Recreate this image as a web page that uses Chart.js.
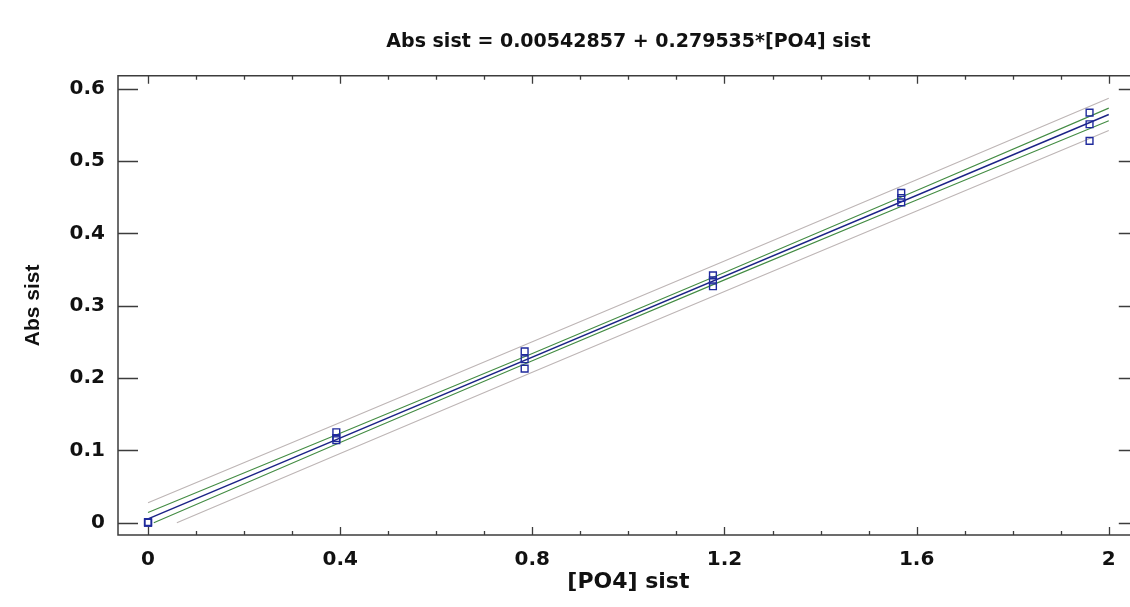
<!DOCTYPE html>
<html>
<head>
<meta charset="utf-8">
<script src="https://cdn.jsdelivr.net/npm/chart.js@4.4.1/dist/chart.umd.min.js"></script>
<style>
  html, body { margin: 0; padding: 0; background: #fff; overflow: hidden; }
</style>
</head>
<body>
<!-- the original plot frame runs a few pixels past the right edge, so the canvas is a bit wider than the window -->
<canvas id="chartReg" width="1145" height="607"></canvas>
<script>
// observed points (3 replicates per level)
const obsX = [0, 0, 0, 0.392, 0.392, 0.392, 0.784, 0.784, 0.784,
              1.176, 1.176, 1.176, 1.568, 1.568, 1.568, 1.96, 1.96, 1.96];
const obsY = [0.000, 0.001, 0.000, 0.125, 0.117, 0.114, 0.237, 0.226, 0.213,
              0.342, 0.335, 0.327, 0.456, 0.449, 0.443, 0.567, 0.551, 0.528];

// fitted line
const fitX = [0, 2.0];
const fitY = [0.0054, 0.5645];

// confidence limits (green) and prediction limits (gray)
const bandX = [0, 0.4, 0.8, 1.2, 1.6, 2.0];
const confUpper = [0.0140, 0.1236, 0.2341, 0.3460, 0.4593, 0.5733];
const confLowerX = [0.012, 0.4, 0.8, 1.2, 1.6, 2.0];
const confLower = [0.0000, 0.1108, 0.2241, 0.3358, 0.4461, 0.5557];
const predUpper = [0.0276, 0.1387, 0.2502, 0.3620, 0.4742, 0.5868];
const predLowerX = [0.06, 0.4, 0.8, 1.2, 1.6, 2.0];
const predLower = [0.0000, 0.0957, 0.2080, 0.3198, 0.4312, 0.5422];

// axis ticks
const xTicks = [0, 0.4, 0.8, 1.2, 1.6, 2];
const xTickLabels = ['0', '0.4', '0.8', '1.2', '1.6', '2'];
const xMinorTicks = [0, 0.1, 0.2, 0.3, 0.4, 0.5, 0.6, 0.7, 0.8, 0.9, 1.0,
                     1.1, 1.2, 1.3, 1.4, 1.5, 1.6, 1.7, 1.8, 1.9, 2.0];
const yTicks = [0, 0.1, 0.2, 0.3, 0.4, 0.5, 0.6];
const yTickLabels = ['0', '0.1', '0.2', '0.3', '0.4', '0.5', '0.6'];

// the original text is a wide bold face, DejaVu Sans Bold is the closest
const WIDE = "'DejaVu Sans', sans-serif";
const NARROW = "'Liberation Sans', Arial, sans-serif";

const pairs = (xs, ys) => xs.map((v, i) => ({ x: v, y: ys[i] }));

// frame with inward ticks, like the original plot
const frameTicks = {
    id: 'frameTicks',
    beforeDatasetsDraw(chart) {
        const { ctx, chartArea: a, scales: { x, y } } = chart;
        ctx.save();
        ctx.strokeStyle = '#3c3c3c';
        ctx.lineWidth = 1.5;
        ctx.beginPath();
        ctx.moveTo(a.right, a.top);
        ctx.lineTo(a.left, a.top);
        ctx.lineTo(a.left, a.bottom);
        ctx.lineTo(a.right, a.bottom);
        ctx.lineTo(a.right, a.top);
        ctx.stroke();

        ctx.lineWidth = 1.3;
        ctx.beginPath();
        xMinorTicks.forEach(v => {
            const px = Math.round(x.getPixelForValue(v)) + 0.5;
            const len = xTicks.includes(v) ? 8 : 4;
            ctx.moveTo(px, a.bottom);
            ctx.lineTo(px, a.bottom - len);
            ctx.moveTo(px, a.top);
            ctx.lineTo(px, a.top + len);
        });
        yTicks.forEach(v => {
            const py = Math.round(y.getPixelForValue(v)) + 0.5;
            ctx.moveTo(a.left, py);
            ctx.lineTo(a.left + 20, py);
            ctx.moveTo(a.right, py);
            ctx.lineTo(a.right - 20, py);
        });
        ctx.stroke();
        ctx.restore();
    }
};

const lineSet = (label, data, color, width) => ({
    label: label,
    data: data,
    showLine: true,
    borderColor: color,
    borderWidth: width,
    pointRadius: 0,
    fill: false,
    tension: 0
});

new Chart(document.getElementById('chartReg'), {
    type: 'scatter',
    data: {
        datasets: [
            {
                label: 'Observed',
                data: pairs(obsX, obsY),
                pointStyle: 'rect',
                pointRadius: 4.8,
                pointBackgroundColor: 'rgba(255,255,255,0)',
                pointBorderColor: '#1f2a9c',
                pointBorderWidth: 1.4,
                showLine: false
            },
            lineSet('Fit', pairs(fitX, fitY), '#1c2386', 1.4),
            lineSet('Conf upper', pairs(bandX, confUpper), '#438c43', 1.1),
            lineSet('Conf lower', pairs(confLowerX, confLower), '#438c43', 1.1),
            lineSet('Pred upper', pairs(bandX, predUpper), '#bdb5b5', 1.1),
            lineSet('Pred lower', pairs(predLowerX, predLower), '#bdb5b5', 1.1)
        ]
    },
    options: {
        responsive: false,
        animation: false,
        devicePixelRatio: 1,
        scales: {
            x: {
                type: 'linear',
                min: -0.0625,
                max: 2.0625,
                grid: { display: false, drawTicks: false },
                border: { display: false },
                afterBuildTicks: scale => { scale.ticks = xTicks.map(v => ({ value: v })); },
                afterFit: scale => { scale.height = 72; },
                ticks: {
                    padding: 13,
                    color: '#111',
                    maxRotation: 0,
                    autoSkip: false,
                    font: { family: WIDE, size: 20, weight: 'bold' },
                    callback: (v, i) => xTickLabels[i]
                },
                title: {
                    display: true,
                    text: '[PO4] sist',
                    color: '#111',
                    padding: { top: 0, bottom: 12 },
                    font: { family: WIDE, size: 22, weight: 'bold' }
                }
            },
            y: {
                type: 'linear',
                min: -0.017,
                max: 0.618,
                grid: { display: false, drawTicks: false },
                border: { display: false },
                afterBuildTicks: scale => { scale.ticks = yTicks.map(v => ({ value: v })); },
                afterFit: scale => { scale.width = 118; },
                ticks: {
                    padding: 13,
                    color: '#111',
                    autoSkip: false,
                    font: { family: WIDE, size: 20, weight: 'bold' },
                    callback: (v, i) => yTickLabels[i]
                },
                title: {
                    display: true,
                    text: 'Abs sist',
                    color: '#111',
                    padding: { top: 21, bottom: 0 },
                    font: { family: NARROW, size: 21, weight: 'bold' }
                }
            }
        },
        plugins: {
            legend: { display: false },
            tooltip: { enabled: false },
            title: {
                display: true,
                fullSize: false,
                text: 'Abs sist = 0.00542857 + 0.279535*[PO4] sist',
                color: '#111',
                padding: { top: 31, bottom: 22 },
                font: { family: WIDE, size: 19, weight: 'bold' }
            }
        }
    },
    plugins: [frameTicks]
});
</script>
</body>
</html>
